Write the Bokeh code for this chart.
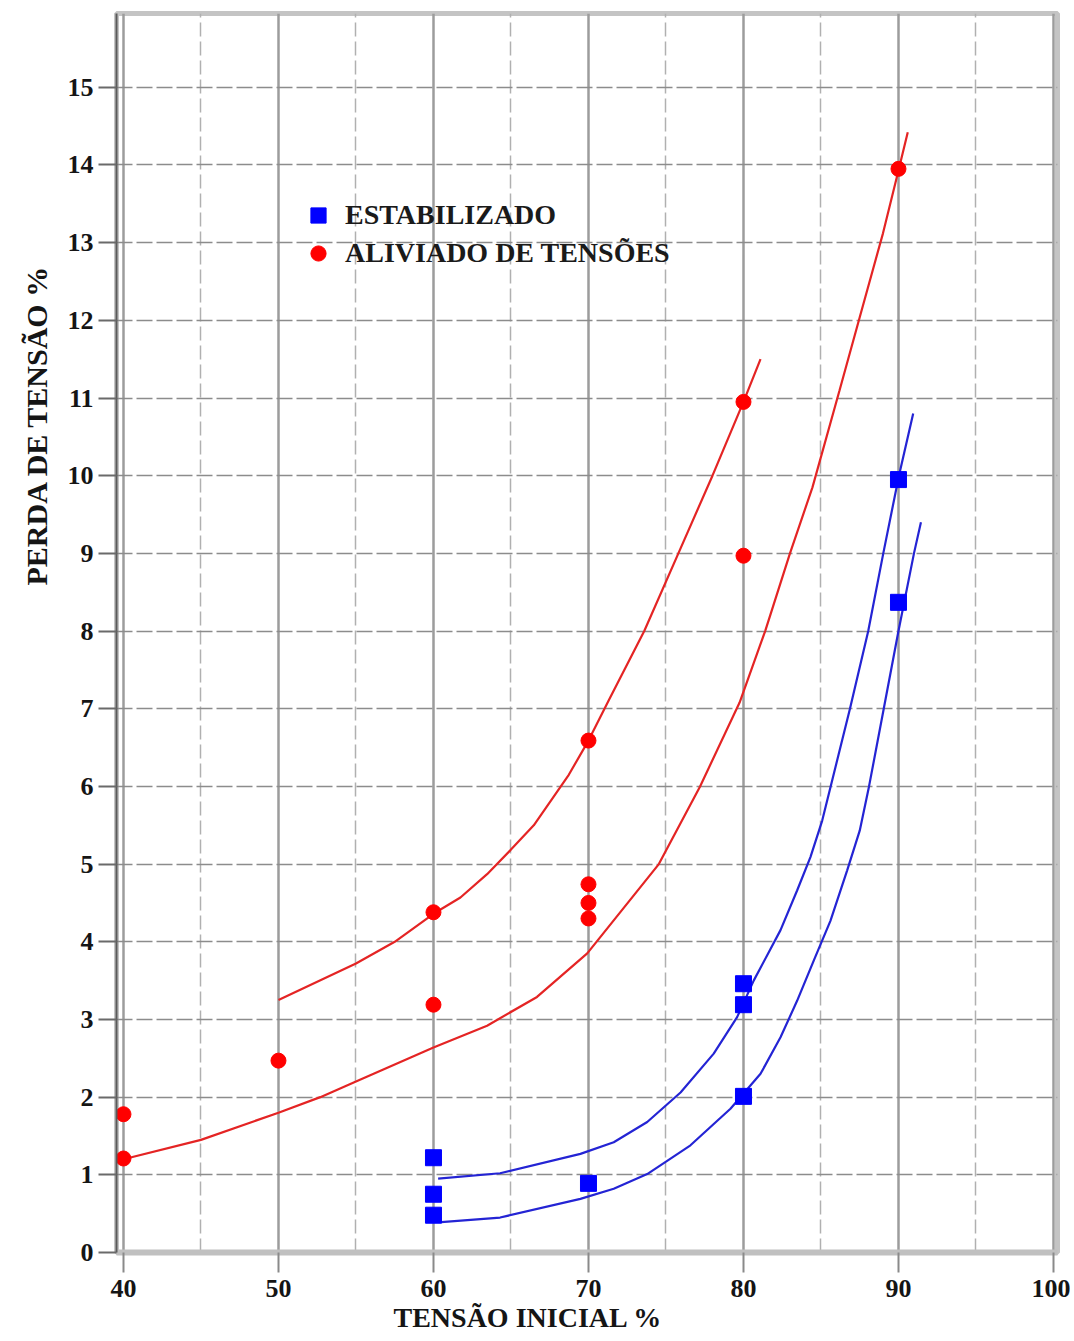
from bokeh.plotting import figure
from bokeh.models import Range1d, FixedTicker, Title
from bokeh.embed import file_html
from bokeh.resources import INLINE

# ---- data ----
x_ticks = [40, 50, 60, 70, 80, 90, 100]
x_minor = [45, 55, 65, 75, 85, 95]
y_ticks = list(range(0, 16))

estab_x = [60, 60, 60, 70, 80, 80, 80, 90, 90]
estab_y = [1.22, 0.75, 0.48, 0.89, 3.46, 3.19, 2.01, 9.95, 8.37]

aliv_x = [40, 40, 50, 60, 60, 70, 70, 70, 70, 80, 80, 90]
aliv_y = [1.78, 1.21, 2.47, 4.38, 3.19, 6.59, 4.74, 4.50, 4.30, 10.95, 8.97, 13.95]

red_upper_x = [50, 55, 57.5, 60, 61.74, 63.46, 64.97, 66.47, 68.73, 70, 71.31, 73.6, 75.8, 78.0, 80, 81.1]
red_upper_y = [3.25, 3.72, 4.0, 4.36, 4.57, 4.87, 5.18, 5.50, 6.15, 6.59, 7.11, 8.0, 9.0, 10.0, 10.95, 11.5]

red_lower_x = [40, 45, 50, 52.7, 55, 60, 63.46, 66.68, 69.92, 74.54, 77.2, 79.75, 81.4, 83.0,
               84.45, 86.2, 87.5, 89.0, 90.0, 90.6]
red_lower_y = [1.2, 1.45, 1.8, 2.0, 2.2, 2.64, 2.92, 3.29, 3.85, 5.0, 6.0, 7.08, 8.0, 9.0,
               9.85, 11.1, 12.04, 13.12, 13.93, 14.42]

blue_upper_x = [60.3, 64.3, 69.48, 71.63, 73.79, 75.94, 78.08, 79.59, 80.66, 82.39, 83.46, 84.32,
                85.08, 86.87, 88.05, 89.02, 90.03, 90.95]
blue_upper_y = [0.95, 1.02, 1.27, 1.42, 1.68, 2.06, 2.56, 3.03, 3.50, 4.15, 4.66, 5.09,
                5.56, 7.0, 8.0, 9.0, 10.0, 10.8]

blue_lower_x = [60.5, 64.3, 69.48, 71.63, 73.79, 76.58, 79.16, 81.10, 82.39, 83.46, 84.54, 85.61,
                86.69, 87.5, 88.1, 89.05, 90.0, 91.0, 91.45]
blue_lower_y = [0.39, 0.45, 0.69, 0.82, 1.01, 1.38, 1.85, 2.30, 2.77, 3.24, 3.76, 4.27,
                4.92, 5.43, 6.0, 7.0, 8.0, 9.0, 9.4]

legend_labels = ["ESTABILIZADO", "ALIVIADO DE TENSÕES"]
x_title = "TENSÃO INICIAL %"
y_title = "PERDA DE TENSÃO %"

# ---- figure ----
SERIF = "Liberation Serif"
p = figure(width=1070, height=1341,
           x_range=Range1d(39.55, 100.26), y_range=Range1d(0, 15.95),
           output_backend="svg", toolbar_location=None,
           min_border_left=116, min_border_right=13,
           min_border_top=13, min_border_bottom=89)
p.background_fill_color = "white"
p.border_fill_color = "white"
p.outline_line_color = "#c4c4c4"
p.outline_line_width = 5

# grids
p.xaxis.ticker = FixedTicker(ticks=x_ticks, minor_ticks=x_minor)
p.yaxis.ticker = FixedTicker(ticks=y_ticks)
p.xgrid.grid_line_color = "#9c9c9c"
p.xgrid.grid_line_width = 2.5
p.xgrid.minor_grid_line_color = "#b0b0b0"
p.xgrid.minor_grid_line_width = 1.5
p.xgrid.minor_grid_line_dash = "14 5"
p.ygrid.grid_line_color = "#8c8c8c"
p.ygrid.grid_line_width = 1.6
p.ygrid.grid_line_dash = "16 4"

# axes
for ax in (p.xaxis[0], p.yaxis[0]):
    ax.major_label_text_font = SERIF
    ax.major_label_text_font_style = "bold"
    ax.major_label_text_font_size = "26px"
    ax.major_label_text_color = "#151515"
    ax.minor_tick_line_color = None
    ax.major_tick_in = 0
p.xaxis.axis_line_color = "#c0c0c0"
p.xaxis.axis_line_width = 6
p.xaxis.major_tick_line_color = "#8a8a8a"
p.xaxis.major_tick_line_width = 2
p.xaxis.major_tick_out = 20
p.xaxis.major_label_standoff = 7
p.yaxis.axis_line_color = "#5a5a5a"
p.yaxis.axis_line_width = 2
p.yaxis.major_tick_line_color = "#6a6a6a"
p.yaxis.major_tick_line_width = 2
p.yaxis.major_tick_out = 18
p.yaxis.major_label_standoff = 5

# curves
RED_L = "#e42424"
BLUE_L = "#2424d4"
p.line(red_upper_x, red_upper_y, line_color=RED_L, line_width=2.2)
p.line(red_lower_x, red_lower_y, line_color=RED_L, line_width=2.2)
p.line(blue_upper_x, blue_upper_y, line_color=BLUE_L, line_width=2.2)
p.line(blue_lower_x, blue_lower_y, line_color=BLUE_L, line_width=2.2)

# points
p.scatter(estab_x, estab_y, marker="square", size=16, fill_color="#0000ff",
          line_color="#0000ff", legend_label=legend_labels[0])
p.scatter(aliv_x, aliv_y, marker="circle", size=15, fill_color="#ff0000",
          line_color="#ff0000", legend_label=legend_labels[1])

lg = p.legend[0]
lg.location = (182, 980)
lg.border_line_color = None
lg.background_fill_alpha = 0
lg.padding = 0
lg.margin = 0
lg.spacing = -2
lg.glyph_width = 40
lg.glyph_height = 38
lg.label_height = 30
lg.label_standoff = 7
lg.label_text_font = SERIF
lg.label_text_font_style = "bold"
lg.label_text_font_size = "28px"
lg.label_text_color = "#1a1a1a"

# axis titles (off-centre as in the reference)
p.add_layout(Title(text=y_title, align="left", offset=667, standoff=24,
                   text_font=SERIF, text_font_style="bold",
                   text_font_size="30px", text_color="#151515"), "left")
p.add_layout(Title(text=x_title, align="left", offset=277, standoff=0,
                   text_font=SERIF, text_font_style="bold",
                   text_font_size="28px", text_color="#151515"), "below")

open("out.html", "w").write(file_html(p, INLINE))
